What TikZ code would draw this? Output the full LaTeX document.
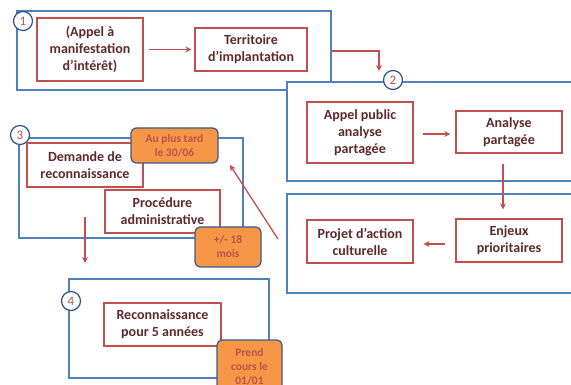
\documentclass[tikz,border=0pt]{standalone}
\usepackage{fontspec}
\setmainfont{Carlito}
\usetikzlibrary{positioning}
\usetikzlibrary{arrows.meta}

\definecolor{zoneblue}{HTML}{4F81BD}
\definecolor{etapered}{HTML}{C0504D}
\definecolor{etapetext}{HTML}{5E2A2A}
\definecolor{delaifill}{HTML}{F79646}
\definecolor{delaiborder}{HTML}{3B5B86}
\definecolor{numblue}{HTML}{2F538F}

\tikzset{
	zone/.style={draw=zoneblue,line width=1.2pt,fill=white},
	etape/.style={draw=etapered,line width=1.2pt,fill=white,text=etapetext,align=center,inner sep=0pt,font=\bfseries\fontsize{14}{17}\selectfont},
	delai/.style={draw=delaiborder,line width=1.2pt,fill=delaifill,rounded corners=5pt,text=etapered,align=center,inner sep=0pt,font=\bfseries\fontsize{11.5}{14}\selectfont},
	num/.style={circle,draw=numblue,line width=1.2pt,fill=white,text=etapered,minimum size=19pt,inner sep=0pt,font=\fontsize{13}{13}\selectfont},
	fleche/.style={draw=etapered,line width=1.3pt,-{Stealth[length=6pt,width=6pt]}}
}

\begin{document}
\begin{tikzpicture}[x=1pt,y=-1pt]
	\useasboundingbox (0,0) rectangle (571,385);
	\clip (0,0) rectangle (571,385);
	% Zones %
	\draw [zone] (17,11) rectangle (331,90);
	\node [num] (n1) at (23,21) {1};
	\draw [zone] (287,82) rectangle (600,181);
	\draw [zone] (287,194) rectangle (600,293);
	\node [num] (n2) at (393,80) {2};
	\draw [zone] (19,138) rectangle (243,238);
	\node [num] (n3) at (20,135) {3};
	\draw [zone] (69,279) rectangle (269,378);
	\node [num] (n4) at (71,301) {4};
	% Etapes %
	\node [etape,minimum width=106pt,minimum height=63pt] (appel) at (90,49.5) {(Appel à\\manifestation\\d’intérêt)};
	\node [etape,minimum width=112pt,minimum height=43pt] (territoire) at (251,49.5) {Territoire\\d’implantation};
	\node [etape,minimum width=106pt,minimum height=61pt] (public) at (360,132.5) {Appel public\\analyse\\partagée};
	\node [etape,minimum width=106pt,minimum height=42pt] (analyse) at (509,132) {Analyse\\partagée};
	\node [etape,minimum width=106pt,minimum height=43pt] (enjeux) at (509,240.5) {Enjeux\\prioritaires};
	\node [etape,minimum width=106pt,minimum height=43pt] (projet) at (360,241.5) {Projet d’action\\culturelle};
	\node [etape,minimum width=116pt,minimum height=44pt] (demande) at (85,165) {Demande de\\reconnaissance};
	\node [etape,minimum width=115pt,minimum height=43pt] (procedure) at (162.5,211.5) {Procédure\\administrative};
	\node [etape,minimum width=117pt,minimum height=43pt] (reco) at (162.5,324.5) {Reconnaissance\\pour 5 années};
	% Delais %
	\node [delai,minimum width=87pt,minimum height=35pt] (tard) at (174.5,145.5) {Au plus tard\\le 30/06};
	\node [delai,minimum width=66pt,minimum height=40pt] (mois) at (228,247) {+/- 18\\mois};
	\node [delai,minimum width=65pt,minimum height=54pt] (prend) at (249.5,367) {Prend\\cours le\\01/01};
	% Lines %
	\coordinate (sortie1) at (331,51);
	\coordinate (entree2) at (379,71);
	\coordinate (bas3) at (85,217);
	\coordinate (haut4) at (85,263);
	\coordinate (retour) at (278,239);
	\coordinate (cible) at (230,165);
	\draw [fleche,shorten <=5pt,shorten >=3pt] (appel) -- (territoire);
	\draw [fleche] (sortie1) -| (entree2);
	\draw [fleche,shorten <=9pt,shorten >=5pt] (public.east |- 0,134) -- (analyse.west |- 0,134);
	\draw [fleche,shorten <=10pt,shorten >=9pt] ([xshift=-6pt]analyse.south) -- ([xshift=-6pt]enjeux.north);
	\draw [fleche,shorten <=10pt,shorten >=10pt] (enjeux.west |- 0,244) -- (projet.east |- 0,244);
	\draw [fleche] (bas3) -- (haut4);
	\draw [fleche] (retour) -- (cible);
\end{tikzpicture}
\end{document}
